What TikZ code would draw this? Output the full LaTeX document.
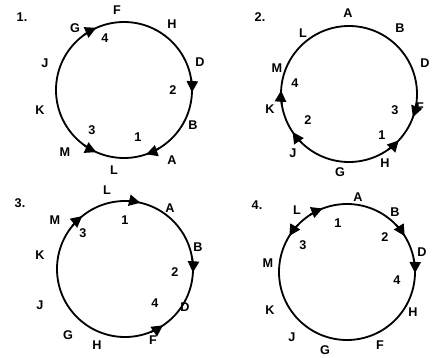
\documentclass[tikz,border=0pt]{standalone}
\usepackage{fontspec}
\setmainfont{Liberation Sans}
\usepackage{tikz}
\usetikzlibrary{arrows.meta}

% short arc on a ring ending in a solid head
\newcommand{\cwtip}[2]{\draw[tip] ([shift={(#2+12:68)}]#1) arc[start angle=#2+12, end angle=#2, radius=68];}
\newcommand{\ccwtip}[2]{\draw[tip] ([shift={(#2-12:68)}]#1) arc[start angle=#2-12, end angle=#2, radius=68];}

\begin{document}
\begin{tikzpicture}[x=0.025cm, y=0.025cm,
  ring/.style={line width=1.3pt, black},
  tip/.style={-{Triangle[length=8pt,width=8pt]}, line width=1.3pt},
  lbl/.style={font=\bfseries\small, inner sep=1pt},
  num/.style={font=\bfseries\small, inner sep=1pt}
]
  \useasboundingbox (0,0) rectangle (435,357);
  % centres
  \coordinate (c1) at (124,267);
  \coordinate (c2) at (349,263);
  \coordinate (c3) at (125,88);
  \coordinate (c4) at (347,85);
  \foreach \c in {c1,c2,c3,c4} \draw[ring] (\c) circle (68);

  % Circle 1
  \node[num] (t1) at (22,340) {1.};
  \node[lbl] (f1) at (117,347) {F};
  \node[lbl] (h1) at (172,333) {H};
  \node[lbl] (g1) at (75,329) {G};
  \node[lbl] (d1) at (200,295) {D};
  \node[lbl] (b1) at (193,232) {B};
  \node[lbl] (a1) at (172,197) {A};
  \node[lbl] (l1) at (114,187) {L};
  \node[lbl] (m1) at (65,205) {M};
  \node[lbl] (k1) at (40,247) {K};
  \node[lbl] (j1) at (45,294) {J};
  \node[num] (n14) at (105,319) {4};
  \node[num] (n12) at (173,267) {2};
  \node[num] (n11) at (138,220) {1};
  \node[num] (n13) at (92,227) {3};
  \cwtip{c1}{114}
  \cwtip{c1}{-2}
  \cwtip{c1}{289}
  \ccwtip{c1}{246}

  % Circle 2
  \node[num] (t2) at (260,340) {2.};
  \node[lbl] (a2) at (348,344) {A};
  \node[lbl] (b2) at (400,329) {B};
  \node[lbl] (d2) at (425,294) {D};
  \node[lbl] (f2) at (420,250) {F};
  \node[lbl] (h2) at (385,194) {H};
  \node[lbl] (g2) at (340,185) {G};
  \node[lbl] (j2) at (293,204) {J};
  \node[lbl] (k2) at (270,248) {K};
  \node[lbl] (m2) at (277,289) {M};
  \node[lbl] (l2) at (303,324) {L};
  \node[num] (n23) at (395,247) {3};
  \node[num] (n21) at (382,222) {1};
  \node[num] (n22) at (308,237) {2};
  \node[num] (n24) at (295,274) {4};
  \cwtip{c2}{-20}
  \ccwtip{c2}{-43}
  \cwtip{c2}{214}
  \cwtip{c2}{177}

  % Circle 3
  \node[num] (t3) at (20,154) {3.};
  \node[lbl] (l3) at (107,167) {L};
  \node[lbl] (a3) at (170,149) {A};
  \node[lbl] (b3) at (198,110) {B};
  \node[lbl] (d3) at (185,50) {D};
  \node[lbl] (f3) at (153,17) {F};
  \node[lbl] (h3) at (97,12) {H};
  \node[lbl] (g3) at (68,22) {G};
  \node[lbl] (j3) at (40,52) {J};
  \node[lbl] (k3) at (40,102) {K};
  \node[lbl] (m3) at (55,137) {M};
  \node[num] (n31) at (125,137) {1};
  \node[num] (n33) at (83,124) {3};
  \node[num] (n32) at (175,85) {2};
  \node[num] (n34) at (155,54) {4};
  \cwtip{c3}{77}
  \cwtip{c3}{129}
  \cwtip{c3}{-3}
  \ccwtip{c3}{-56}

  % Circle 4
  \node[num] (t4) at (257,152) {4.};
  \node[lbl] (a4) at (358,160) {A};
  \node[lbl] (b4) at (395,145) {B};
  \node[lbl] (d4) at (422,105) {D};
  \node[lbl] (h4) at (413,45) {H};
  \node[lbl] (f4) at (380,12) {F};
  \node[lbl] (g4) at (325,7) {G};
  \node[lbl] (j4) at (292,20) {J};
  \node[lbl] (k4) at (270,47) {K};
  \node[lbl] (m4) at (268,94) {M};
  \node[lbl] (l4) at (297,147) {L};
  \node[num] (n41) at (338,134) {1};
  \node[num] (n42) at (385,120) {2};
  \node[num] (n44) at (397,77) {4};
  \node[num] (n43) at (303,112) {3};
  \cwtip{c4}{111}
  \cwtip{c4}{32}
  \cwtip{c4}{-1}
  \ccwtip{c4}{148}
\end{tikzpicture}
\end{document}
